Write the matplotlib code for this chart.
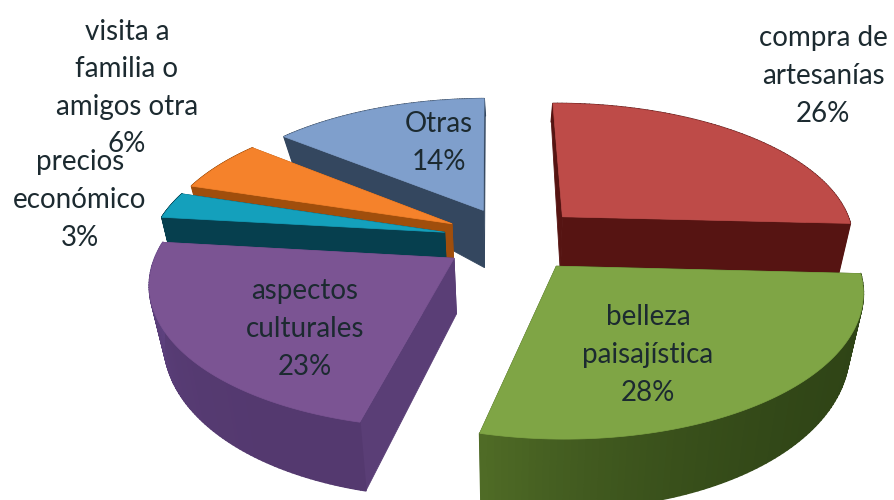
import numpy as np
import matplotlib
matplotlib.use("Agg")
import matplotlib.pyplot as plt
from matplotlib.collections import PolyCollection
from matplotlib.colors import to_rgb

plt.rcParams['font.family'] = ['Lato', 'DejaVu Sans']

# Data (clockwise from 12 o'clock)
categories = ["compra de\nartesanías", "belleza\npaisajística", "aspectos\nculturales",
              "precios\neconómico", "visita a\nfamilia o\namigos otra", "Otras"]
values = [26, 28, 23, 3, 6, 14]

top_colors = ["#BE4B48", "#7FA545", "#7B5493", "#14A0BC", "#F5822B", "#7F9FCC"]
side_colors = ["#561412", "#3A5019", "#5A3E76", "#063F4E", "#A04E0C", "#34475F"]
wall_colors = [("#561412", "#561412"), ("#2F4416", "#4F6B26"), ("#54396F", "#64478A"),
               ("#063F4E", "#063F4E"), ("#A04E0C", "#A04E0C"), ("#34475F", "#34475F")]
label_pos = [(823, 76), (648, 355), (305, 329), (80, 200), (127, 88), (439, 143)]
draw_order = [5, 4, 3, 2, 0, 1]

# Projection settings
CX, CY, AX, BY, K, EXPLODE, LEAN = 513, 239, 293, 137, 0.154, 0.24, 0.04
START_DEG = -0.7


def project(X, Y):
    s = 1 / (1 + K * Y)
    return CX + AX * X * s, CY - BY * Y * s


def depth(Y):
    return np.interp(Y, [-1.2, -0.25, 0.2, 0.9, 1.3], [70, 55, 58, 25, 15])


def lower(x):
    return CX + (x - CX) * (1 - LEAN)


fig = plt.figure(figsize=(8.95, 5), dpi=100)
ax = fig.add_axes([0, 0, 1, 1])
ax.set_xlim(0, 895)
ax.set_ylim(500, 0)
ax.axis("off")

total = sum(values)
edges = np.concatenate([[0], np.cumsum(values)]) / total * 2 * np.pi + np.radians(START_DEG)

for i in draw_order:
    t0, t1 = edges[i], edges[i + 1]
    mid = (t0 + t1) / 2
    ox, oy = EXPLODE * np.sin(mid), EXPLODE * np.cos(mid)
    th = np.linspace(t0, t1, 90)
    Xo, Yo = ox + np.sin(th), oy + np.cos(th)
    xo, yo = project(Xo, Yo)
    xa, ya = project(ox, oy)
    da, do = depth(oy), depth(Yo)
    xl = lower(xo)

    # radial walls
    for j in (0, -1):
        poly = [(xa, ya), (xo[j], yo[j]), (xl[j], yo[j] + do[j]), (lower(xa), ya + da)]
        ax.fill(*zip(*poly), color=side_colors[i], lw=0.6, zorder=1)

    # outer wall, shaded along the arc
    c0, c1 = np.array(to_rgb(wall_colors[i][0])), np.array(to_rgb(wall_colors[i][1]))
    quads, cols = [], []
    for k in range(len(th) - 1):
        quads.append([(xo[k], yo[k]), (xo[k + 1], yo[k + 1]),
                      (xl[k + 1], yo[k + 1] + do[k + 1]), (xl[k], yo[k] + do[k])])
        f = (k / (len(th) - 2)) ** 3
        cols.append(tuple(c0 + (c1 - c0) * f))
    coll = PolyCollection(quads, facecolors=cols, edgecolors=cols, linewidths=1.2, zorder=1)
    ax.add_collection(coll)

    # top face
    ax.fill(np.r_[xa, xo], np.r_[ya, yo], color=top_colors[i], lw=0.5, zorder=1)

for name, v, (x, y) in zip(categories, values, label_pos):
    ax.text(x, y, f"{name}\n{v}%", ha="center", va="center", fontsize=20,
            color="#1C2A30", linespacing=1.55, zorder=10)

fig.savefig("out.png", dpi=100)
